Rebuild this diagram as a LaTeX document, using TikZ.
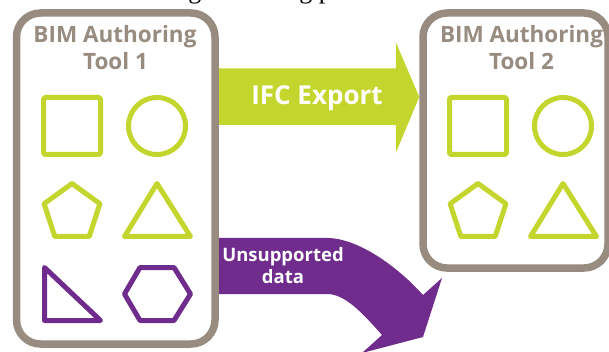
\documentclass[tikz,border=0pt]{standalone}
\usepackage{fontspec}
\setmainfont{Open Sans}
\newfontfamily\bodyserif{Liberation Serif}
\usetikzlibrary{calc}
\pgfdeclarelayer{background}
\pgfsetlayers{background,main}
\definecolor{boxgray}{RGB}{152,139,128}
\definecolor{limeg}{RGB}{196,214,45}
\definecolor{purp}{RGB}{111,44,140}
\newcommand\drawgreenset{%
  \draw[gshape, rounded corners=2pt] (43.5,97.5) rectangle (100.5,154.5);
  \draw[gshape] (157,126) circle[radius=28.5];
  \draw[gshape] (72,183.5) -- (99.9,203.75) -- (89.2,236.5) -- (54.8,236.5) -- (44.1,203.75) -- cycle;
  \draw[gshape] (157,183.5) -- (190.5,236.5) -- (124.5,236.5) -- cycle;
}
\begin{document}
\begin{tikzpicture}[x=1pt,y=-1pt,
  toolbox/.style={draw=boxgray,line width=7.5pt,rounded corners=24pt,fill=white,inner sep=0pt},
  gshape/.style={draw=limeg,line width=5pt,line join=round},
  pshape/.style={draw=purp,line width=5pt,line join=round},
  titletext/.style={text=boxgray,font=\bfseries\fontsize{22.5}{26}\selectfont,inner sep=0pt,anchor=base},
  arrowtext/.style={text=white,inner sep=0pt,anchor=base},
  bodytext/.style={font=\bodyserif\fontsize{26}{30}\selectfont,inner sep=0pt,anchor=base east}]
\useasboundingbox (0,0) rectangle (609,352);
\begin{scope}
  \clip (0,0) rectangle (609,352);
  \node[bodytext] (toptext) at (457,-1.5) {and other factors affecting a building performance.};
\end{scope}
% boxes
\node[toolbox, minimum width=198.5pt, minimum height=331pt] (tool1) at (115.75,178.5) {};
\node[toolbox, minimum width=185pt, minimum height=255pt] (tool2) at (515.5,140.5) {};
% titles
\node[titletext] (t1a) at (115,43) {BIM Authoring};
\node[titletext] (t1b) at (115.5,70) {Tool 1};
\node[titletext] (t2a) at (521.5,43) {BIM Authoring};
\node[titletext] (t2b) at (521.5,70) {Tool 2};
% shapes
\drawgreenset
\draw[pshape] (44.5,267.5) -- (100.5,320.5) -- (44.5,320.5) -- cycle;
\draw[pshape] (124.5,294) -- (140,267.5) -- (174,267.5) -- (190.5,294) -- (174,320.5) -- (140,320.5) -- cycle;
\begin{scope}[shift={(406,0)}]
  \drawgreenset
\end{scope}
% arrows
\path (tool1.east) ++(0,-81.5) coordinate (gs);
\path (tool2.west) ++(0,-43.5) coordinate (ge);
\path (tool1.east) ++(0,87.5) coordinate (ps);
\coordinate (pe) at (423,337);
\begin{pgfonlayer}{background}
  \fill[limeg] ($(gs)+(-4,-28.5)$) -- ($(ge)+(-23.5,-28.5)$) -- ($(ge)+(-23.5,-55)$) -- (ge)
     -- ($(ge)+(-23.5,56)$) -- ($(ge)+(-23.5,28)$) -- ($(gs)+(-4,28)$) -- cycle;
  \fill[purp] ($(ps)+(-4,-28)$) -- (327,238) .. controls (357,238) and (396.3,265.2) .. (423,295)
     -- (442,278) -- (pe) -- (362,353) -- (382,335) .. controls (362,312.6) and (345,294) .. (327,294)
     -- ($(ps)+(-4,28)$) -- cycle;
\end{pgfonlayer}
\node[arrowtext, font=\bfseries\fontsize{26}{30}\selectfont] (ifc) at (317,105) {IFC Export};
\node[arrowtext, font=\bfseries\fontsize{18.5}{22}\selectfont] (uns1) at (283,261) {Unsupported};
\node[arrowtext, font=\bfseries\fontsize{18.5}{22}\selectfont] (uns2) at (283,283) {data};
\end{tikzpicture}
\end{document}
